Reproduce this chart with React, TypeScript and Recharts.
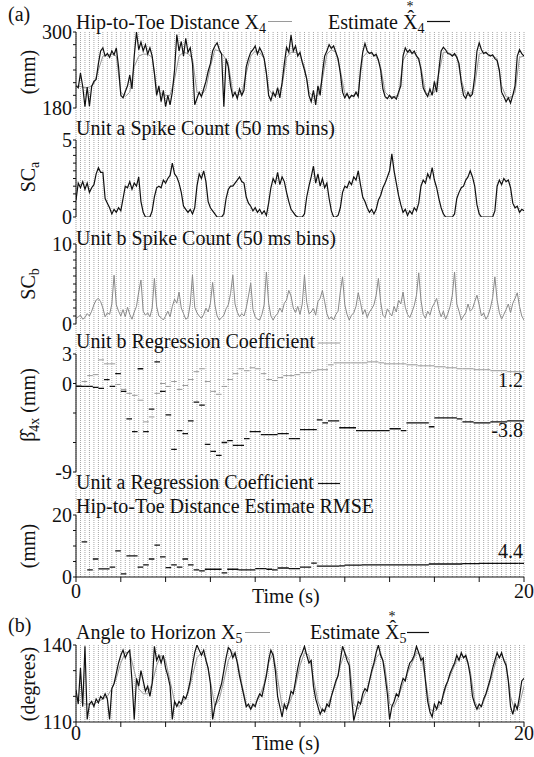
import React from "react";
import { LineChart, Line, XAxis, YAxis, ReferenceLine } from "recharts";

const FONT = '"Liberation Serif", "Times New Roman", serif';
const INK = "#111";
const GRAY = "#9a9a9a";

// sample spacing (s)
const DT = 0.1;
const DT_TRUE = 0.2;
const DT_STEP = 0.25;
const GRID_DT = 0.2;

const TIME_TICKS = [0, 2, 4, 6, 8, 10, 12, 14, 16, 18, 20];
const TIME_LABELS = [0, 20];

// (a) hip-to-toe distance, mm
const X4_TICKS = [180, 200, 220, 240, 260, 280, 300];
const X4_LABELS = [180, 300];
const X4_EST = [
  215, 212, 235, 214, 182, 213, 183, 214, 222, 225,
  250, 270, 275, 262, 266, 260, 270, 264, 275, 245,
  200, 196, 206, 215, 232, 210, 262, 300, 272, 284,
  270, 280, 265, 275, 262, 235, 200, 215, 190, 208,
  182, 200, 185, 205, 240, 296, 270, 285, 262, 290,
  268, 275, 250, 185, 195, 205, 198, 210, 222, 238,
  250, 270, 278, 283, 272, 265, 182, 258, 245, 215,
  198, 205, 195, 210, 200, 208, 245, 258, 268, 272,
  278, 265, 275, 268, 258, 235, 200, 192, 205, 198,
  212, 196, 220, 250, 276, 268, 295, 270, 278, 262,
  268, 252, 240, 226, 200, 190, 208, 185, 215, 200,
  235, 262, 270, 280, 274, 278, 268, 258, 235, 205,
  196, 203, 195, 200, 198, 205, 198, 240, 268, 282,
  270, 266, 268, 262, 265, 256, 240, 210, 198, 195,
  200, 195, 198, 194, 205, 215, 262, 275, 268, 272,
  266, 270, 262, 258, 240, 212, 204, 198, 210, 200,
  222, 205, 240, 270, 276, 272, 266, 265, 262, 266,
  260, 250, 220, 200, 195, 205, 198, 202, 230, 270,
  283, 272, 266, 268, 264, 262, 264, 258, 255, 240,
  205, 198, 190, 196, 188, 200, 215, 262, 272, 266,
  262,
];
const X4_TRUE = [
  215, 214, 212, 213, 218, 240, 262, 264, 265, 262,
  205, 198, 205, 245, 262, 265, 265, 260, 210, 202,
  200, 200, 225, 262, 268, 266, 258, 205, 200, 210,
  245, 272, 270, 262, 250, 205, 200, 203, 235, 262,
  270, 268, 258, 210, 200, 202, 215, 260, 268, 268,
  264, 245, 205, 198, 200, 225, 265, 272, 268, 240,
  202, 198, 200, 205, 260, 268, 266, 262, 245, 205,
  198, 198, 200, 255, 268, 268, 264, 245, 205, 200,
  205, 235, 268, 268, 264, 262, 225, 200, 200, 215,
  265, 268, 265, 262, 258, 215, 198, 196, 205, 260,
  262,
];

// unit a spike count
const SCA_TICKS = [0, 0.5, 1, 1.5, 2, 2.5, 3, 3.5, 4, 4.5, 5];
const SCA_LABELS = [0, 5];
const SCA = [
  1.1, 2.2, 1.9, 2.3, 1.8, 2.2, 1.6, 1.9, 2.1, 2.8,
  3.2, 2.9, 2.9, 1.2, 0.9, 0.6, 0.2, 0.5, 0.3, 0.6,
  0.4, 1.2, 2.0, 1.9, 2.3, 1.8, 2.2, 2.0, 2.6, 1.0,
  0.3, 0, 0, 0, 0.4, 1.3, 1.9, 2.0, 1.9, 2.4,
  2.2, 2.5, 2.7, 3.5, 2.8, 2.6, 2.2, 1.6, 0.7, 0.5,
  0.3, 0.5, 0.2, 0.6, 2.0, 2.8, 2.5, 3.0, 2.3, 1.0,
  0.6, 0.4, 0.2, 0, 0, 0, 0.2, 1.2, 1.8, 2.0,
  2.0, 2.2, 2.4, 2.6, 2.3, 2.2, 1.3, 0.9, 0.7, 0.4,
  0.6, 0.3, 0.5, 0.2, 0.4, 0.1, 0.9, 1.9, 2.5, 2.2,
  2.9, 2.1, 2.6, 2.3, 1.6, 1.0, 0.5, 0.3, 0.1, 0,
  0, 0, 0.2, 1.3, 2.0, 2.6, 3.3, 2.2, 2.8, 2.0,
  2.5, 1.9, 2.2, 1.2, 0.4, 0, 0, 0.1, 0.6, 1.6,
  2.0, 1.9, 2.3, 2.1, 2.6, 2.4, 3.0, 2.1, 1.3, 1.0,
  0.6, 0.3, 0.5, 0.2, 0.5, 1.1, 1.4, 1.9, 2.2, 2.6,
  3.0, 4.1, 3.0, 2.2, 1.4, 0.8, 0.3, 0.5, 0.1, 0.4,
  0.2, 0.6, 0.4, 0.9, 2.0, 2.4, 2.2, 2.8, 2.5, 3.2,
  2.4, 1.9, 1.2, 0.6, 0.2, 0, 0, 0, 0, 0.2,
  1.2, 1.6, 1.9, 2.0, 2.4, 2.6, 3.0, 2.6, 2.0, 0.8,
  0.2, 0, 0, 0, 0, 0, 0, 0.4, 2.0, 2.4,
  2.1, 2.5, 2.3, 2.4, 1.9, 0.9, 0.6, 0.7, 0.3, 0.5,
  0.4,
];

// unit b spike count
const SCB_TICKS = [0, 1, 2, 3, 4, 5, 6, 7, 8, 9, 10];
const SCB_LABELS = [0, 10];
const SCB = [
  0.7, 0.9, 1.1, 0.6, 0.8, 1.3, 1.0, 1.6, 2.4, 3.0,
  3.2, 2.8, 2.0, 0.9, 1.4, 1.2, 2.5, 6.1, 2.4, 1.6,
  1.0, 1.8, 0.9, 2.1, 1.2, 0.6, 1.5, 2.2, 4.0, 5.5,
  1.6, 1.1, 1.4, 0.9, 2.0, 5.7, 2.2, 1.0, 0.8, 0.5,
  1.0, 1.6, 0.9, 2.2, 3.1, 2.6, 4.0, 2.0, 1.3, 0.6,
  0.8, 2.5, 6.1, 2.1, 1.4, 1.0, 0.7, 1.2, 2.0, 1.5,
  2.6, 5.2, 2.4, 1.0, 0.5, 0.8, 1.1, 1.9, 2.4, 3.8,
  6.1, 2.5, 1.5, 0.9, 1.3, 1.0, 2.0, 3.5, 5.1, 1.8,
  0.9, 0.6, 0.5, 1.2, 2.4, 6.5, 2.6, 1.0, 0.5, 1.0,
  1.3, 2.0, 1.5, 2.6, 3.0, 4.2, 3.5, 2.0, 1.4, 2.2,
  1.2, 2.5, 6.1, 2.7, 1.3, 1.5, 2.0, 1.1, 2.8, 3.2,
  4.2, 2.8, 1.3, 0.6, 0.9, 0.5, 1.2, 1.6, 4.0, 5.9,
  2.4, 1.2, 0.5, 1.1, 1.4, 2.2, 3.9, 2.7, 1.2, 1.8,
  0.8, 1.5, 1.9, 2.4, 3.6, 5.7, 2.8, 1.1, 0.8, 1.9,
  1.4, 1.0, 2.2, 1.5, 3.0, 2.5, 4.0, 2.1, 1.2, 0.8,
  1.5, 2.3, 3.6, 6.4, 3.0, 1.2, 0.7, 1.6, 1.1, 2.1,
  2.6, 3.2, 1.8, 0.9, 1.6, 0.6, 1.3, 2.2, 3.6, 6.5,
  2.5, 1.6, 0.5, 1.0, 1.4, 2.5, 1.6, 1.9, 2.8, 3.6,
  2.4, 1.0, 1.4, 0.6, 1.1, 2.0, 3.3, 5.9, 3.0, 1.4,
  0.6, 1.2, 1.8, 2.5, 1.4, 2.6, 3.2, 3.9, 2.2, 1.0,
  0.5,
];

// regression coefficients, one value per 0.25 s update
const BETA_TICKS = [-9, -6, -3, 0, 3];
const BETA_LABELS = [-9, 0, 3];
const BETA_B = [
  -0.2, 0.2, 0.8, 0.9, 2.4, 2.0, 2.0, -0.1, -0.6, -1.0,
  -1.2, -1.7, -3.9, -3.4, -1.0, 0.0, -0.3, 0.2, -0.6, -0.2,
  0.4, 1.2, 1.5, 0.2, -0.8, -1.1, -0.3, 0.4, 1.0, 1.5,
  1.3, 1.6, 1.5, 1.0, 0.4, 0.3, 0.6, 0.8, 0.8, 0.9,
  1.1, 1.1, 1.3, 1.4, 1.4, 1.9, 2.1, 2.1, 2.1, 2.1,
  2.1, 2.1, 2.2, 2.2, 2.1, 2.0, 2.0, 2.0, 2.0, 1.9,
  1.9, 1.8, 1.8, 1.8, 1.7, 1.7, 1.6, 1.6, 1.5, 1.5,
  1.5, 1.4, 1.4, 1.4, 1.3, 1.3, 1.3, 1.2, 1.2, 1.2,
];
const BETA_A = [
  -0.3, -0.3, -0.3, -0.4, -0.5, 0.4, -0.3, 1.0, -0.8, -3.6,
  -4.9, 1.5, -4.9, -2.6, 2.2, -0.8, -3.2, -6.7, -4.8, -5.1,
  -3.8, -1.9, -2.2, -6.2, -6.9, -7.3, -6.0, -5.8, -6.3, -6.3,
  -5.6, -4.9, -4.9, -5.2, -5.2, -5.2, -5.1, -5.1, -5.6, -5.6,
  -4.7, -4.7, -4.7, -3.7, -4.0, -3.8, -3.8, -4.5, -4.5, -4.5,
  -4.8, -4.8, -4.8, -4.8, -4.8, -4.8, -4.6, -4.6, -4.8, -4.0,
  -4.0, -4.0, -4.0, -4.4, -3.5, -3.5, -3.5, -3.5, -3.6, -3.9,
  -3.9, -4.0, -4.0, -4.0, -3.9, -3.9, -3.9, -3.8, -3.8, -3.8,
];

// estimate RMSE, mm
const RMSE_TICKS = [0, 5, 10, 15, 20];
const RMSE_LABELS = [0, 20];
const RMSE = [
  null, 11.3, 2.3, 5.8, 2.6, 2.6, 3.2, 8.4, 1.0, 6.8,
  6.8, 3.2, 3.9, 5.8, 10.3, 6.5, 3.0, 3.9, 3.2, 5.8,
  3.9, 2.3, 2.0, 2.5, 2.5, 2.5, 1.3, 2.5, 2.5, 2.3,
  2.3, 2.3, 2.7, 2.7, 2.5, 2.3, 2.9, 2.9, 2.7, 2.7,
  3.2, 3.2, 4.5, 3.5, 3.5, 3.5, 3.5, 3.6, 3.8, 3.8,
  3.8, 3.9, 3.9, 3.9, 3.9, 3.9, 3.9, 3.9, 3.9, 3.9,
  3.9, 3.9, 3.9, 4.2, 4.2, 4.2, 4.2, 4.2, 4.2, 4.3,
  4.3, 4.3, 4.4, 4.4, 4.4, 4.4, 4.4, 4.4, 4.4, 4.4,
];

// (b) angle to horizon, degrees
const X5_TICKS = [110, 120, 130, 140];
const X5_LABELS = [110, 140];
const X5_EST = [
  122.5, 117, 131, 116, 139.5, 111, 117, 118, 116, 119,
  117.5, 120, 119, 121, 119, 111, 123, 125, 129, 133,
  136, 138, 135, 137, 138, 126, 111, 127, 124, 130,
  126, 122, 124, 120, 125, 139.5, 134, 136, 133, 136,
  131, 128, 124, 111, 118, 116, 118, 117, 120, 119,
  122, 126, 132, 137, 140, 138, 136, 138, 134, 131,
  125, 111, 116, 119, 122, 125, 130, 135, 139, 138,
  135, 137, 133, 128, 124, 120, 116, 117, 115, 117,
  116, 119, 121, 120, 124, 128, 134, 138, 136, 130,
  120, 116, 112, 117, 115, 118, 122, 121, 126, 131,
  135, 137, 139.5, 136, 133, 134, 124, 119, 116, 113,
  115, 114, 117, 116, 120, 123, 126, 128, 134, 139.5,
  137, 134, 132, 120, 110.5, 114, 118, 117, 121, 123,
  122, 126, 130, 133, 137, 140, 136, 134, 128, 121,
  111, 116, 118, 121, 120, 124, 127, 126, 130, 133,
  134, 136, 139.5, 137, 134, 135, 126, 118, 114, 112,
  117, 115, 118, 117, 121, 124, 126, 129, 131, 133,
  136, 134, 137, 135, 136, 133, 128, 120, 117, 115,
  117, 116, 119, 121, 124, 127, 131, 134, 137, 135,
  137, 134, 132, 126, 116, 113, 117, 115, 120, 126,
  127,
];
const X5_TRUE = [
  120, 118, 117, 117, 117, 118, 119, 120, 123, 127,
  133, 137, 137, 130, 123, 121, 121, 125, 132, 136,
  134, 126, 118, 116, 118, 121, 128, 135, 137, 135,
  126, 116, 119, 126, 134, 137, 134, 125, 117, 115,
  117, 120, 125, 133, 137, 127, 116, 115, 119, 124,
  132, 137, 136, 127, 118, 114, 116, 120, 125, 132,
  137, 134, 117, 115, 119, 123, 129, 135, 137, 131,
  117, 116, 120, 125, 129, 133, 137, 136, 127, 115,
  114, 116, 120, 126, 130, 134, 136, 135, 130, 118,
  115, 118, 123, 129, 135, 136, 133, 120, 114, 117,
  124,
];

type Pt = { t: number; v: number | null };

const series = (vals: (number | null)[], dt: number): Pt[] =>
  vals.map((v, i) => ({ t: Math.round(i * dt * 1000) / 1000, v }));

// each update drawn as a short horizontal dash
const steps = (vals: (number | null)[], dt: number): Pt[] =>
  vals.flatMap((v, k) => [
    { t: k * dt, v },
    { t: (k + 1) * dt, v },
    { t: (k + 1) * dt, v: null },
  ]);

const gridTimes = Array.from({ length: Math.round(20 / GRID_DT) + 1 }, (_, i) =>
  Math.round(i * GRID_DT * 1000) / 1000
);
const GRID_SPAN = [
  { t: 0, v: 0 },
  { t: 20, v: 1 },
];

const tickStyle = { fontFamily: FONT, fontSize: 20, fill: INK };
const labelOnly = (keep: number[]) => (v: number) => (keep.includes(v) ? String(v) : "");

function Grid({ top, bottom }: { top: number; bottom: number }) {
  return (
    <div style={{ position: "absolute", left: 0, top: 0 }}>
      <LineChart width={534} height={bottom} data={GRID_SPAN} margin={{ top, right: 10, bottom: 0, left: 76 }}>
        <XAxis type="number" dataKey="t" domain={[0, 20]} hide />
        <YAxis type="number" domain={[0, 1]} hide />
        <Line dataKey="v" stroke="none" dot={false} isAnimationActive={false} />
        {gridTimes.map((t) => (
          <ReferenceLine key={t} x={t} stroke="#a6a6a6" strokeWidth={1} strokeDasharray="1 1" />
        ))}
      </LineChart>
    </div>
  );
}

function Panel({
  top,
  plotH,
  domain,
  ticks,
  labels,
  timeAxis,
  timeMargin = 2,
  children,
}: {
  top: number;
  plotH: number;
  domain: [number, number];
  ticks: number[];
  labels: number[];
  timeAxis?: boolean;
  timeMargin?: number;
  children: React.ReactNode;
}) {
  const mt = 14;
  const mb = timeAxis ? 4 : 14;
  const xh = timeAxis ? 30 : 0;
  return (
    <div style={{ position: "absolute", left: 0, top: top - mt }}>
      <LineChart width={534} height={plotH + mt + mb + xh} margin={{ top: mt, right: 10, bottom: mb, left: 16 }}>
        <XAxis
          type="number"
          dataKey="t"
          domain={[0, 20]}
          allowDataOverflow
          hide={!timeAxis}
          ticks={TIME_TICKS}
          interval={0}
          height={xh}
          tickSize={5}
          tickMargin={timeMargin}
          tickFormatter={labelOnly(TIME_LABELS)}
          tick={tickStyle}
          axisLine={{ stroke: INK }}
          tickLine={{ stroke: INK }}
        />
        <YAxis
          type="number"
          domain={domain}
          allowDataOverflow
          ticks={ticks}
          interval={0}
          width={60}
          tickSize={3}
          tickMargin={1}
          tickFormatter={labelOnly(labels)}
          tick={tickStyle}
          axisLine={{ stroke: INK }}
          tickLine={{ stroke: INK }}
        />
        {children}
      </LineChart>
    </div>
  );
}

const lineProps = {
  dataKey: "v",
  dot: false,
  isAnimationActive: false,
  connectNulls: false,
  type: "linear" as const,
};

function Sub({ children, dx = 0, dy = 4 }: { children: React.ReactNode; dx?: number; dy?: number }) {
  return (
    <tspan fontSize={14} dx={dx} dy={dy}>
      {children}
    </tspan>
  );
}

// "Estimate X̂*n" with the star set over the hat
function EstimateLabel({ x, y, n }: { x: number; y: number; n: string }) {
  return (
    <text x={x} y={y}>
      {"Estimate X\u0302"}
      <tspan fontSize={14} dx={-11} dy={-18}>
        *
      </tspan>
      <Sub dx={4} dy={22}>
        {n}
      </Sub>
    </text>
  );
}

export default function App() {
  return (
    <div style={{ position: "absolute", left: 0, top: 0, width: 534, height: 757, background: "#fff" }}>
      <Grid top={32} bottom={577} />
      <Grid top={645} bottom={722} />

      <Panel top={32} plotH={76} domain={[180, 300]} ticks={X4_TICKS} labels={X4_LABELS}>
        <Line {...lineProps} data={series(X4_TRUE, DT_TRUE)} stroke={GRAY} strokeWidth={1} />
        <Line {...lineProps} data={series(X4_EST, DT)} stroke={INK} strokeWidth={1.2} />
      </Panel>

      <Panel top={140} plotH={77} domain={[0, 5]} ticks={SCA_TICKS} labels={SCA_LABELS}>
        <Line {...lineProps} data={series(SCA, DT)} stroke={INK} strokeWidth={1.2} />
      </Panel>

      <Panel top={244} plotH={80} domain={[0, 10]} ticks={SCB_TICKS} labels={SCB_LABELS}>
        <Line {...lineProps} data={series(SCB, DT)} stroke="#8a8a8a" strokeWidth={1} />
      </Panel>

      <Panel top={354} plotH={118} domain={[-9, 3]} ticks={BETA_TICKS} labels={BETA_LABELS}>
        <Line {...lineProps} data={steps(BETA_B, DT_STEP)} stroke={GRAY} strokeWidth={1} />
        <Line {...lineProps} data={steps(BETA_A, DT_STEP)} stroke={INK} strokeWidth={1.3} />
      </Panel>

      <Panel top={515} plotH={62} domain={[0, 20]} ticks={RMSE_TICKS} labels={RMSE_LABELS} timeAxis timeMargin={2}>
        <Line {...lineProps} data={steps(RMSE, DT_STEP)} stroke={INK} strokeWidth={1.3} />
      </Panel>

      <Panel top={645} plotH={77} domain={[110, 140]} ticks={X5_TICKS} labels={X5_LABELS} timeAxis timeMargin={-1}>
        <Line {...lineProps} data={series(X5_TRUE, DT_TRUE)} stroke={GRAY} strokeWidth={1} />
        <Line {...lineProps} data={series(X5_EST, DT)} stroke={INK} strokeWidth={1.2} />
      </Panel>

      <svg
        width={534}
        height={757}
        style={{ position: "absolute", left: 0, top: 0, pointerEvents: "none" }}
        fontFamily={FONT}
        fontSize={20}
        fill={INK}
      >
        {/* (a) */}
        <text x={8} y={21}>(a)</text>
        <text x={76} y={28.5}>
          Hip-to-Toe Distance X<Sub>4</Sub>
        </text>
        <line x1={268} x2={292} y1={21.5} y2={21.5} stroke={GRAY} />
        <EstimateLabel x={328} y={28.5} n="4" />
        <line x1={427} x2={450} y1={21.5} y2={21.5} stroke={INK} strokeWidth={1.2} />

        <text x={76} y={135}>Unit a Spike Count (50 ms bins)</text>
        <text x={76} y={244.5}>Unit b Spike Count (50 ms bins)</text>
        <text x={76} y={348}>Unit b Regression Coefficient</text>
        <line x1={318} x2={340} y1={343} y2={343} stroke={GRAY} />
        <text x={76} y={488.5}>Unit a Regression Coefficient</text>
        <line x1={318} x2={340} y1={483.5} y2={483.5} stroke={INK} strokeWidth={1.2} />
        <text x={76} y={513}>Hip-to-Toe Distance Estimate RMSE</text>

        <text x={523} y={387} textAnchor="end">1.2</text>
        <text x={523} y={437} textAnchor="end">-3.8</text>
        <text x={523} y={558} textAnchor="end">4.4</text>

        <text transform="translate(35,72) rotate(-90)" textAnchor="middle">(mm)</text>
        <text transform="translate(35,177) rotate(-90)" textAnchor="middle">
          SC<Sub>a</Sub>
        </text>
        <text transform="translate(35,284) rotate(-90)" textAnchor="middle">
          SC<Sub>b</Sub>
        </text>
        <text transform="translate(35,405) rotate(-90)" textAnchor="middle">
          {"\u03B2\u0302"}
          <Sub>4x</Sub>
          <tspan dy={-4}> (mm)</tspan>
        </text>
        <text transform="translate(35,546) rotate(-90)" textAnchor="middle">(mm)</text>
        <text x={252} y={603}>Time (s)</text>

        {/* (b) */}
        <text x={8} y={632}>(b)</text>
        <text x={76} y={639}>
          Angle to Horizon X<Sub>5</Sub>
        </text>
        <line x1={245} x2={270} y1={632.5} y2={632.5} stroke={GRAY} />
        <EstimateLabel x={310} y={639} n="5" />
        <line x1={407} x2={429} y1={632.5} y2={632.5} stroke={INK} strokeWidth={1.2} />
        <text transform="translate(35,684) rotate(-90)" textAnchor="middle">(degrees)</text>
        <text x={252} y={750}>Time (s)</text>
      </svg>
    </div>
  );
}
